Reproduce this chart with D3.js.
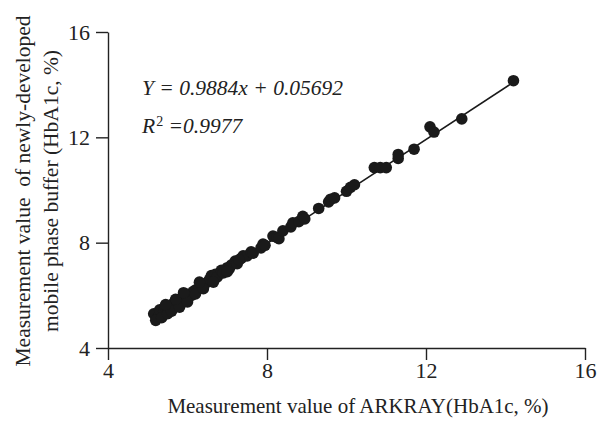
<!DOCTYPE html>
<html>
<head>
<meta charset="utf-8">
<script src="https://cdn.jsdelivr.net/npm/d3@7"></script>
<style>
  body { margin: 0; background: #fff; }
  text { font-family: "Liberation Serif", "Times New Roman", serif; fill: #222; }
</style>
</head>
<body>
<div id="chart"></div>
<script>
// ARKRAY measurement (x) vs newly-developed buffer measurement (y), HbA1c %
const arkray = [5.2, 5.15, 5.25, 5.3, 5.3, 5.4, 5.45, 5.5, 5.55, 5.6, 5.65, 5.7, 5.75, 5.8, 5.85, 5.9, 5.95, 6.0, 6.05, 6.1,
    6.15, 6.2, 6.3, 6.35, 6.45, 6.55, 6.6, 6.7, 6.75, 6.85, 6.9, 7.0, 7.05, 7.1, 7.2, 7.25, 7.35, 7.4, 7.5, 7.6,
    7.65, 7.85, 7.9, 7.95, 8.15, 8.25, 8.3, 8.4, 8.6, 8.65, 8.8, 8.9, 8.95, 9.3, 9.55, 9.6, 9.7, 10.0, 10.1, 10.2,
    10.7, 10.85, 11.0, 11.3, 11.3, 11.7, 12.1, 12.2, 12.9, 14.2,
    5.2, 5.35, 5.5, 5.6, 5.8, 5.7, 6.0, 6.2, 6.4, 6.65, 5.45, 5.9, 6.3, 7.0, 7.3]
const newBuffer = [5.2, 5.3, 5.15, 5.3, 5.45, 5.4, 5.55, 5.5, 5.45, 5.6, 5.7, 5.6, 5.75, 5.85, 5.75, 5.9, 6.0, 5.9, 6.05, 6.0,
    6.15, 6.2, 6.3, 6.4, 6.45, 6.6, 6.75, 6.8, 6.7, 6.95, 6.85, 7.05, 7.0, 7.15, 7.3, 7.2, 7.4, 7.5, 7.5, 7.65,
    7.6, 7.8, 7.95, 7.9, 8.25, 8.2, 8.15, 8.45, 8.6, 8.75, 8.8, 9.0, 8.9, 9.3, 9.55, 9.65, 9.7, 9.95, 10.1, 10.2,
    10.85, 10.85, 10.85, 11.2, 11.35, 11.55, 12.4, 12.2, 12.7, 14.15,
    5.05, 5.15, 5.3, 5.4, 5.55, 5.85, 5.75, 6.05, 6.25, 6.5, 5.65, 6.1, 6.5, 6.9, 7.35]
const ticks = [4, 8, 12, 16]
const slope = 0.9884
const intercept = 0.05692
const fitRange = [5.2, 14.2]

const width = 597, height = 421
const margin = { top: 32, right: 12, bottom: 73, left: 108 }

const svg = d3.select("#chart").append("svg")
    .attr("width", width)
    .attr("height", height)

const x = d3.scaleLinear().domain([4, 16]).range([margin.left, width - margin.right])
const y = d3.scaleLinear().domain([4, 16]).range([height - margin.bottom, margin.top])

// axes
const xAxis = svg.append("g")
    .attr("transform", `translate(0,${height - margin.bottom})`)
    .call(d3.axisBottom(x).tickValues(ticks).tickSize(12).tickSizeOuter(0).tickPadding(2))
const yAxis = svg.append("g")
    .attr("transform", `translate(${margin.left},0)`)
    .call(d3.axisLeft(y).tickValues(ticks).tickSize(12).tickSizeOuter(0).tickPadding(6))

for (const g of [xAxis, yAxis]) {
    g.selectAll("path, line").attr("stroke", "#222").attr("stroke-width", 1.4)
    g.selectAll("text").attr("font-size", 22).attr("font-family", "Liberation Serif").attr("fill", "#222")
}

// fit line
svg.append("line")
    .attr("x1", x(fitRange[0]))
    .attr("y1", y(slope * fitRange[0] + intercept))
    .attr("x2", x(fitRange[1]))
    .attr("y2", y(slope * fitRange[1] + intercept))
    .attr("stroke", "#1a1a1a")
    .attr("stroke-width", 1.5)

// points
svg.append("g")
    .selectAll("circle")
    .data(arkray.map((d, i) => [d, newBuffer[i]]))
    .join("circle")
    .attr("cx", d => x(d[0]))
    .attr("cy", d => y(d[1]))
    .attr("r", 5.8)
    .attr("fill", "#1a1a1a")

// equation
const eq = svg.append("g").attr("font-style", "italic").attr("font-size", 21.5)
eq.append("text").attr("x", 142).attr("y", 95).text("Y = 0.9884x + 0.05692")
const r2 = eq.append("text").attr("x", 142).attr("y", 133)
r2.append("tspan").text("R")
r2.append("tspan").attr("font-size", 14).attr("font-style", "normal").attr("dx", 1).attr("dy", -7).text("2")
r2.append("tspan").attr("dy", 7).text(" =0.9977")

// axis titles
svg.append("text")
    .attr("x", 358)
    .attr("y", 413)
    .attr("text-anchor", "middle")
    .attr("font-size", 21)
    .text("Measurement value of ARKRAY(HbA1c, %)")

const yTitle = svg.append("text")
    .attr("transform", "translate(0,191) rotate(-90)")
    .attr("text-anchor", "middle")
    .attr("font-size", 21.5)
yTitle.append("tspan").attr("x", 0).attr("y", 30).text("Measurement value\u00a0 of newly-developed")
yTitle.append("tspan").attr("x", 0).attr("y", 58).text("mobile phase buffer (HbA1c, %)")
</script>
</body>
</html>
